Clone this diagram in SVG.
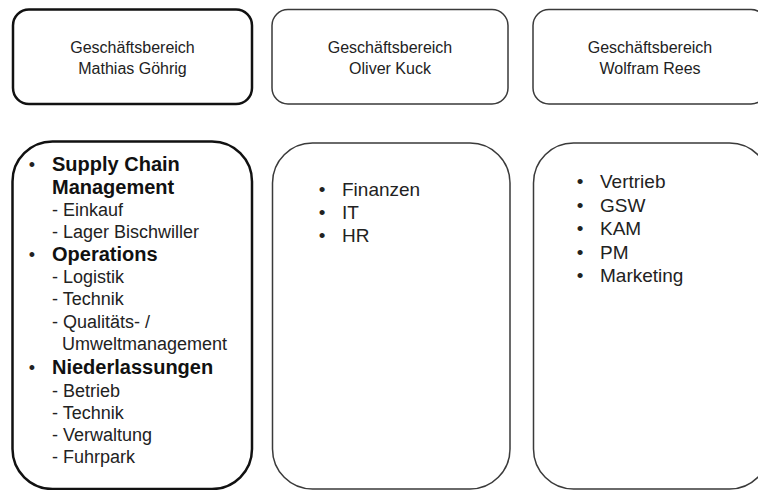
<svg xmlns="http://www.w3.org/2000/svg" width="758" height="490" viewBox="0 0 758 490">
<style>
.box{fill:#fff;stroke:#3a3a3a;stroke-width:1.5}
.bold-box{fill:#fff;stroke:#111;stroke-width:2.5}
.t{font-family:"Liberation Sans",Arial,sans-serif;fill:#222}
.hd{font-size:16px;text-anchor:middle}
.li{font-size:18px}
.lb{font-size:20px;font-weight:bold;fill:#111}
.r{font-size:19px}
</style>
<rect width="758" height="490" fill="#fff"/>
<g id="connectors"></g>
<g id="head-goehrig">
<rect class="bold-box" x="13" y="9.5" width="239" height="94.5" rx="16"/>
<text class="t hd" x="132.5" y="52.5">Geschäftsbereich</text>
<text class="t hd" x="132.5" y="74">Mathias Göhrig</text>
</g>
<g id="head-kuck">
<rect class="box" x="272" y="9.5" width="236" height="94.5" rx="16"/>
<text class="t hd" x="390" y="52.5">Geschäftsbereich</text>
<text class="t hd" x="390" y="74">Oliver Kuck</text>
</g>
<g id="head-rees">
<rect class="box" x="533" y="9.5" width="234" height="94.5" rx="16"/>
<text class="t hd" x="650" y="52.5">Geschäftsbereich</text>
<text class="t hd" x="650" y="74">Wolfram Rees</text>
</g>
<g id="list-goehrig">
<rect class="bold-box" x="12.5" y="141.5" width="239.5" height="347.5" rx="40"/>
<text class="t li" x="32" y="171" text-anchor="middle">•</text>
<text class="t lb" x="52" y="171">Supply Chain</text>
<text class="t lb" x="52" y="194">Management</text>
<text class="t li" x="52" y="216">- Einkauf</text>
<text class="t li" x="52" y="238">- Lager Bischwiller</text>
<text class="t li" x="32" y="261" text-anchor="middle">•</text>
<text class="t lb" x="52" y="261">Operations</text>
<text class="t li" x="52" y="283">- Logistik</text>
<text class="t li" x="52" y="305">- Technik</text>
<text class="t li" x="52" y="328">- Qualitäts- /</text>
<text class="t li" x="62" y="350">Umweltmanagement</text>
<text class="t li" x="32" y="374" text-anchor="middle">•</text>
<text class="t lb" x="52" y="374">Niederlassungen</text>
<text class="t li" x="52" y="397">- Betrieb</text>
<text class="t li" x="52" y="419">- Technik</text>
<text class="t li" x="52" y="441">- Verwaltung</text>
<text class="t li" x="52" y="463">- Fuhrpark</text>
</g>
<g id="list-kuck">
<rect class="box" x="272.5" y="143" width="237.5" height="346" rx="40"/>
<text class="t r" x="322" y="196" text-anchor="middle">•</text>
<text class="t r" x="342" y="196">Finanzen</text>
<text class="t r" x="322" y="219" text-anchor="middle">•</text>
<text class="t r" x="342" y="219">IT</text>
<text class="t r" x="322" y="242" text-anchor="middle">•</text>
<text class="t r" x="342" y="242">HR</text>
</g>
<g id="list-rees">
<rect class="box" x="533.5" y="143" width="236" height="346" rx="40"/>
<text class="t r" x="580" y="188" text-anchor="middle">•</text>
<text class="t r" x="600" y="188">Vertrieb</text>
<text class="t r" x="580" y="211.5" text-anchor="middle">•</text>
<text class="t r" x="600" y="211.5">GSW</text>
<text class="t r" x="580" y="235" text-anchor="middle">•</text>
<text class="t r" x="600" y="235">KAM</text>
<text class="t r" x="580" y="258.5" text-anchor="middle">•</text>
<text class="t r" x="600" y="258.5">PM</text>
<text class="t r" x="580" y="282" text-anchor="middle">•</text>
<text class="t r" x="600" y="282">Marketing</text>
</g>
</svg>
